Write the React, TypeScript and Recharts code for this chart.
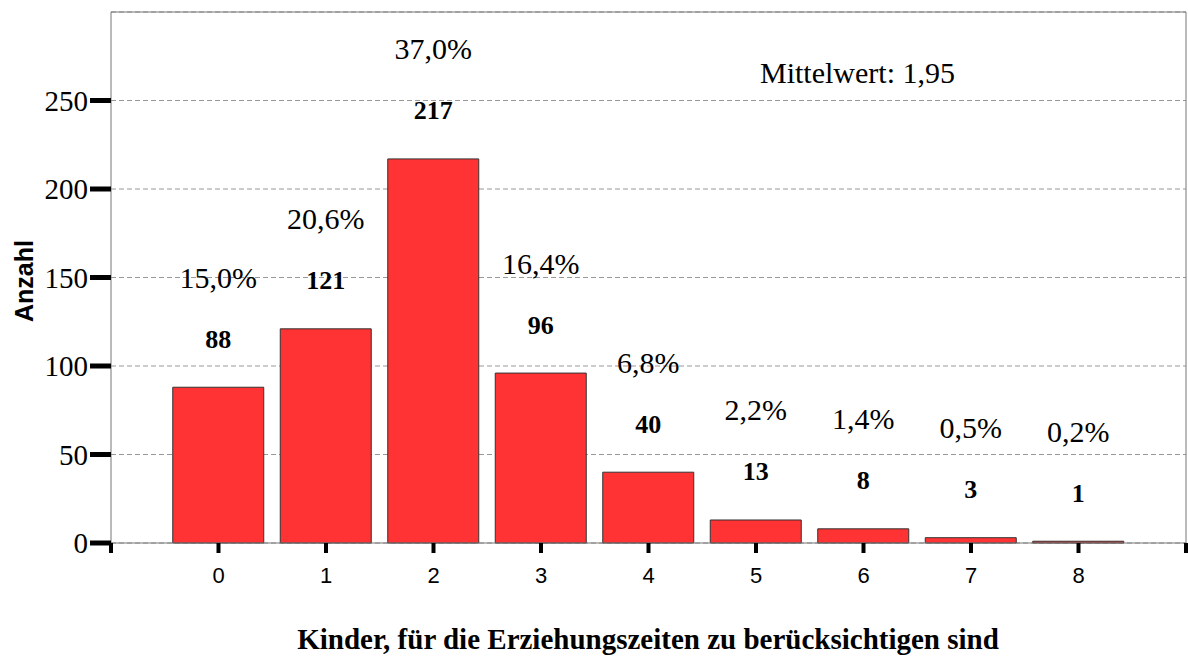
import {
  BarChart,
  Bar,
  XAxis,
  YAxis,
  CartesianGrid,
  LabelList,
  ReferenceLine,
  Customized,
} from "recharts";

const categories = [0, 1, 2, 3, 4, 5, 6, 7, 8];
const counts = [88, 121, 217, 96, 40, 13, 8, 3, 1];
const percentLabels = ["15,0%", "20,6%", "37,0%", "16,4%", "6,8%", "2,2%", "1,4%", "0,5%", "0,2%"];
const yTicks = [0, 50, 100, 150, 200, 250];
const xTicks = [-1, 0, 1, 2, 3, 4, 5, 6, 7, 8, 9];
const meanLabel = "Mittelwert: 1,95";
const xTitle = "Kinder, für die Erziehungszeiten zu berücksichtigen sind";
const yTitle = "Anzahl";

const data = categories.map((k, i) => ({ k, count: counts[i], pct: percentLabels[i] }));

const serif = "'Liberation Serif', 'Times New Roman', serif";
const sans = "'Liberation Sans', Arial, sans-serif";

function BarLabels(props: any) {
  const { x, y, width, index, value } = props;
  const cx = Number(x) + Number(width) / 2;
  const top = Number(y);
  return (
    <g>
      <text
        x={cx}
        y={top - 48}
        textAnchor="middle"
        dominantBaseline="central"
        fontFamily={serif}
        fontWeight="bold"
        fontSize={26}
        fill="#000"
      >
        {value}
      </text>
      <text
        x={cx}
        y={top - 48 - 62}
        textAnchor="middle"
        dominantBaseline="central"
        fontFamily={serif}
        fontSize={30}
        fill="#000"
      >
        {percentLabels[index]}
      </text>
    </g>
  );
}

function Titles() {
  return (
    <g>
      <text x={760} y={83} fontFamily={serif} fontSize={30} fill="#000">
        {meanLabel}
      </text>
      <text
        x={648}
        y={649}
        textAnchor="middle"
        fontFamily={serif}
        fontWeight="bold"
        fontSize={29}
        fill="#000"
      >
        {xTitle}
      </text>
      <text
        x={24}
        y={281}
        textAnchor="middle"
        dominantBaseline="central"
        transform="rotate(-90 24 281)"
        fontFamily={sans}
        fontWeight="bold"
        fontSize={25}
        fill="#000"
      >
        {yTitle}
      </text>
    </g>
  );
}

export default function App() {
  return (
    <div style={{ position: "absolute", left: 0, top: 0, background: "#fff" }}>
      <BarChart
        width={1188}
        height={656}
        data={data}
        margin={{ top: 12, right: 2, left: 0, bottom: 53 }}
      >
        <CartesianGrid vertical={false} stroke="#999" strokeDasharray="5 3" />
        <XAxis
          dataKey="k"
          type="number"
          domain={[-1, 9]}
          ticks={xTicks}
          interval={0}
          height={60}
          tickSize={10}
          tickMargin={14}
          tickLine={{ stroke: "#000", strokeWidth: 4 }}
          axisLine={{ stroke: "#777" }}
          tick={{ fill: "#000", fontFamily: sans, fontSize: 22 }}
          tickFormatter={(v: number) => (v < 0 || v > 8 ? "" : String(v))}
        />
        <YAxis
          domain={[0, 300]}
          ticks={yTicks}
          width={111}
          tickSize={21}
          tickMargin={2}
          tickLine={{ stroke: "#000", strokeWidth: 5 }}
          axisLine={{ stroke: "#777" }}
          tick={{ fill: "#000", fontFamily: serif, fontSize: 29 }}
        />
        <ReferenceLine y={300} stroke="#777" />
        <ReferenceLine x={9} stroke="#777" />
        <Bar
          dataKey="count"
          barSize={91}
          fill="#ff3333"
          stroke="#333"
          strokeWidth={1}
          isAnimationActive={false}
        >
          <LabelList dataKey="count" content={BarLabels} />
        </Bar>
        <Customized component={Titles} />
      </BarChart>
    </div>
  );
}
